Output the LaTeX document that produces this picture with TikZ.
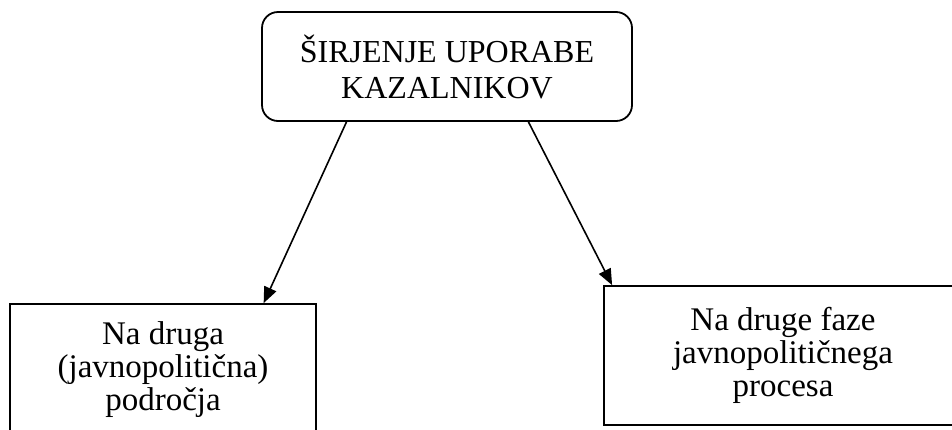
\documentclass[tikz,border=0pt]{standalone}
\usepackage{fontspec}
\setmainfont{Liberation Serif}
\usetikzlibrary{arrows.meta,calc}
\begin{document}
\begin{tikzpicture}[x=1pt,y=-1pt,
  box/.style={draw=black,line width=1.8pt,align=center,inner sep=0pt},
  conn/.style={line width=1.6pt,-{Triangle[length=16pt,width=13pt]}},
  toptxt/.style={font=\fontsize{32}{36}\selectfont},
  boxtxt/.style={font=\fontsize{33}{33}\selectfont}]
\useasboundingbox[fill=white] (0,0) rectangle (952,429);
\node[box,toptxt,rounded corners=16pt,minimum width=370pt,minimum height=109pt] (top) at (447,66.5) {ŠIRJENJE UPORABE\\KAZALNIKOV};
\node[box,boxtxt,minimum width=306pt,minimum height=132pt] (left) at (163,370) {Na druga\\(javnopolitična)\\področja};
\node[box,boxtxt,minimum width=358pt,minimum height=139pt] (right) at (783,355.5) {Na druge faze\\javnopolitičnega\\procesa};
\draw[conn] ($(top.south west)!0.2297!(top.south east)$) -- ($(left.north west)!0.827!(left.north east)$);
\draw[conn] ($(top.south west)!0.719!(top.south east)$) -- ($(right.north west)!0.025!(right.north east)$);
\end{tikzpicture}
\end{document}
